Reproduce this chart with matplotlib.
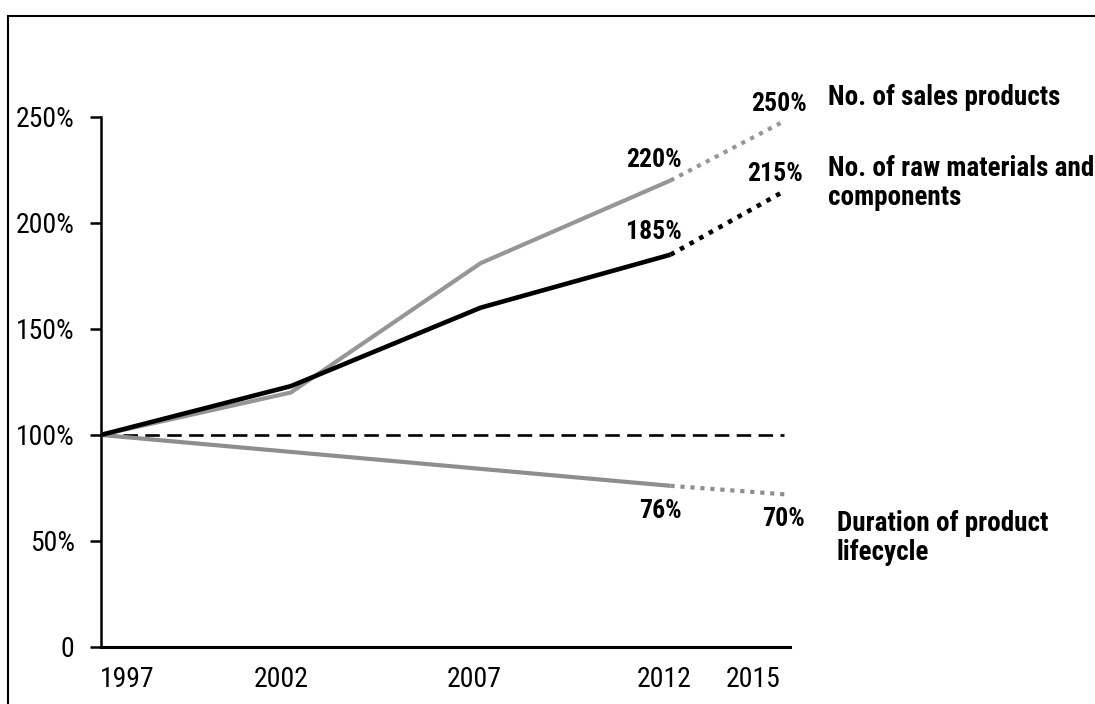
import matplotlib
matplotlib.use("Agg")
import matplotlib.pyplot as plt
from matplotlib.patches import Rectangle

plt.rcParams['font.family'] = ['Roboto Condensed', 'DejaVu Sans']

# ---- data ----
years_actual = [1997, 2002, 2007, 2012]
years_forecast = [2012, 2015]

sales_actual = [100, 120, 181, 220]
sales_forecast = [220, 248]

raw_actual = [100, 123, 160, 185]
raw_forecast = [185, 215]

life_actual = [100, 92, 84, 76]
life_forecast = [76, 72]

ytick_vals = [0, 50, 100, 150, 200, 250]
ytick_labels = ['0', '50%', '100%', '150%', '200%', '250%']
xtick_labels = ['1997', '2002', '2007', '2012', '2015']
xtick_pos = [1997.68, 2001.76, 2006.82, 2011.84, 2014.18]

labels_sales = ['220%', '250%']
labels_raw = ['185%', '215%']
labels_life = ['76%', '70%']

series_names = ['No. of sales products',
                'No. of raw materials and\ncomponents',
                'Duration of product\nlifecycle']

GREY = '#969696'
GREY2 = '#8e8e8e'

fig = plt.figure(figsize=(10.95, 7.04), dpi=100)
ax = fig.add_axes([0.0922, 0.081, 0.6293, 0.753])

lw = 3.0
dot = (0, (1, 1.4))
ax.plot(years_actual, sales_actual, color=GREY, lw=lw, solid_capstyle='butt', zorder=3)
ax.plot(years_forecast, sales_forecast, color=GREY, lw=lw, linestyle=dot,
        dash_capstyle='butt', clip_on=False, zorder=3)
ax.plot(years_actual, raw_actual, color='black', lw=3.3, solid_capstyle='butt', zorder=4)
ax.plot(years_forecast, raw_forecast, color='black', lw=3.3, linestyle=dot,
        dash_capstyle='butt', clip_on=False, zorder=4)
ax.plot(years_actual, life_actual, color=GREY2, lw=lw, solid_capstyle='butt', zorder=3)
ax.plot(years_forecast, life_forecast, color=GREY2, lw=lw, linestyle=dot,
        dash_capstyle='butt', clip_on=False, zorder=3)

# 100% baseline
ax.plot([years_actual[0], years_forecast[-1]], [100, 100], color='black', lw=1.9,
        linestyle=(0, (5.5, 2.8)), dash_capstyle='butt', zorder=2)

ax.set_xlim(1997, 2015.15)
ax.set_ylim(0, 250)
for s in ['top', 'right']:
    ax.spines[s].set_visible(False)
ax.spines['left'].set_linewidth(1.8)
ax.spines['bottom'].set_linewidth(2.2)
ax.spines['left'].set_bounds(0, 250)

ax.set_yticks(ytick_vals)
ax.set_yticklabels(ytick_labels, fontsize=20)
ax.tick_params(axis='y', direction='out', length=8, width=1.8, pad=11)
ax.set_xticks(xtick_pos)
ax.set_xticklabels(xtick_labels, fontsize=20)
ax.tick_params(axis='x', length=0, pad=14)

bold = dict(fontsize=18.5, fontweight='bold', ha='center', va='center',
            textcoords='offset points', annotation_clip=False)
ax.annotate(labels_sales[0], (years_actual[-1], sales_actual[-1]), xytext=(-12, 15), **bold)
ax.annotate(labels_sales[1], (years_forecast[-1], sales_forecast[-1]), xytext=(-4, 12.5), **bold)
ax.annotate(labels_raw[0], (years_actual[-1], raw_actual[-1]), xytext=(-12, 16.5), **bold)
ax.annotate(labels_raw[1], (years_forecast[-1], raw_forecast[-1]), xytext=(-6.5, 12.5), **bold)
ax.annotate(labels_life[0], (years_actual[-1], life_actual[-1]), xytext=(-7, -18), **bold)
ax.annotate(labels_life[1], (years_forecast[-1], life_forecast[-1]), xytext=(-0.5, -17.5), **bold)

lab = dict(fontsize=19.5, fontweight='bold', ha='left', va='baseline', linespacing=1.1)
fig.text(828 / 1095, 1 - 105 / 704, series_names[0], **lab)
fig.text(828 / 1095, 1 - 205 / 704, series_names[1], **lab)
fig.text(837 / 1095, 1 - 560 / 704, series_names[2], **lab)

# outer frame
fig.patches.append(Rectangle((8 / 1095, -0.1), 1.2, 1.1 - 16 / 704, transform=fig.transFigure,
                             fill=False, edgecolor='black', lw=1.5))

fig.savefig('out.png', dpi=100)
